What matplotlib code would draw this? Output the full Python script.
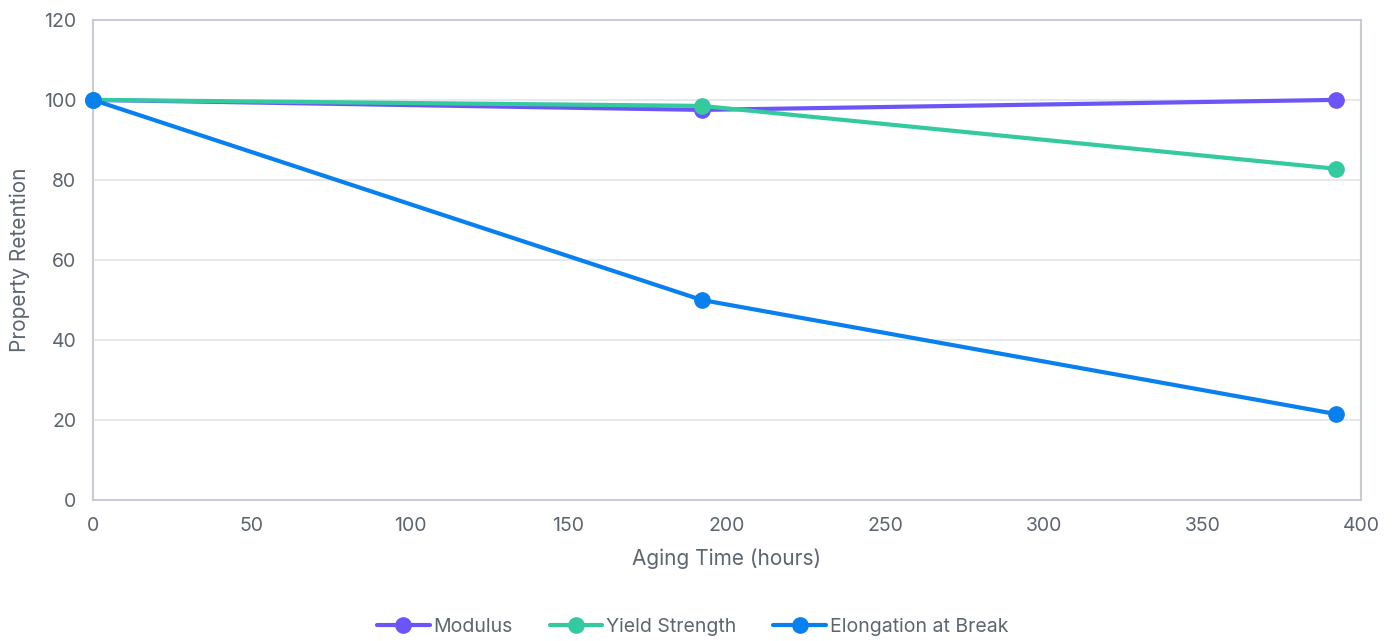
import matplotlib.pyplot as plt

# data
hours = [0, 192, 392]
modulus = [100, 97.5, 100]
yield_strength = [100, 98.5, 82.8]
elongation = [100, 50, 21.5]

series = [
    ("Modulus", modulus, "#6b55f6"),
    ("Yield Strength", yield_strength, "#35c9a0"),
    ("Elongation at Break", elongation, "#0a80ee"),
]

plt.rcParams['font.family'] = ['Inter', 'DejaVu Sans']
text_col = "#5d6570"
frame_col = "#c8ccd3"

fig = plt.figure(figsize=(13.98, 6.41), dpi=100)
ax = fig.add_axes([0.0665, 0.22, 0.907, 0.749])

for name, vals, col in series:
    ax.plot(hours, vals, color=col, lw=3, marker='o', ms=11, label=name,
            solid_capstyle='round', clip_on=False, zorder=3)

ax.set_xlim(0, 400)
ax.set_ylim(0, 120)
ax.set_xticks(range(0, 401, 50))
ax.set_yticks(range(0, 121, 20))
ax.grid(axis='y', color='#e3e6ea', lw=1.3)
ax.set_axisbelow(True)
for s in ax.spines.values():
    s.set_color(frame_col)
    s.set_linewidth(1.5)
ax.tick_params(length=0, labelsize=14, labelcolor=text_col, pad=12)
ax.set_xlabel("Aging Time (hours)", fontsize=15, color=text_col, labelpad=10)
ax.set_ylabel("Property Retention", fontsize=15, color=text_col, labelpad=10)

leg = ax.legend(loc='upper center', bbox_to_anchor=(0.473, -0.21), ncol=3,
                frameon=False, fontsize=14, handlelength=2.7, handletextpad=0.2,
                columnspacing=1.9)
for t in leg.get_texts():
    t.set_color(text_col)

fig.savefig("out.png", dpi=100)
